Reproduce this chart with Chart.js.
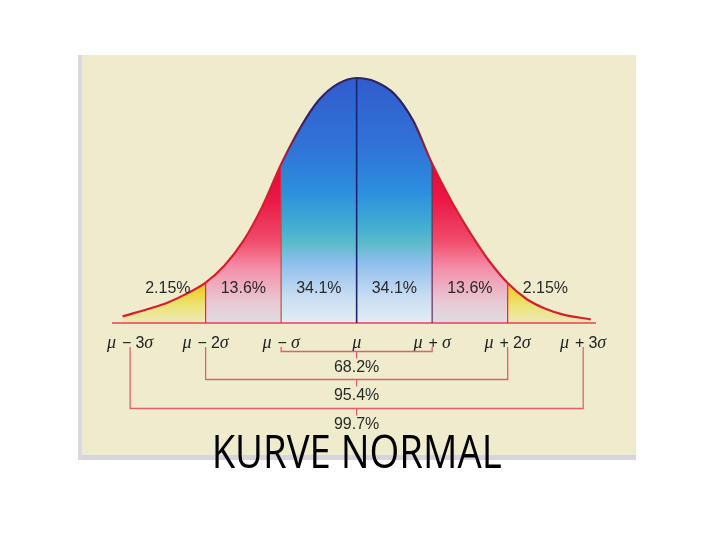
<!DOCTYPE html>
<html><head><meta charset="utf-8">
<script src="https://cdn.jsdelivr.net/npm/chart.js@4.4.1/dist/chart.umd.min.js"></script>
<style>html,body{margin:0;padding:0;background:#fff;}#wrap{width:720px;height:540px;position:relative;}</style>
</head><body><div id="wrap"><canvas id="c" width="720" height="540"></canvas></div>
<script>
// ---- data ----
const sigmaPos = [-3.1, -2.75, -2.5, -2.25, -2, -1.75, -1.5, -1.25, -1, -0.75, -0.5, -0.25, 0, 0.25, 0.5, 0.75, 1, 1.25, 1.5, 1.75, 2, 2.25, 2.5, 2.75, 3.1];
const density  = [2.7, 5.8, 8.4, 12.0, 16.5, 23.5, 33.5, 47.5, 64.8, 79.5, 91.0, 97.6, 100, 98.5, 93.5, 82.5, 65.0, 50.0, 37.0, 25.5, 16.3, 9.8, 5.8, 3.3, 1.5];
const dividerPos = [-2, -1, 0, 1, 2];
const regionCenters = [-2.5, -1.5, -0.5, 0.5, 1.5, 2.5];
const regionLabels  = ['2.15%', '13.6%', '34.1%', '34.1%', '13.6%', '2.15%'];
const tickValues = [-3, -2, -1, 0, 1, 2, 3];
const tickLabels = ['μ − 3σ', 'μ − 2σ', 'μ − σ', 'μ', 'μ + σ', 'μ + 2σ', 'μ + 3σ'];
const bracketFrom = [-1, -2, -3];
const bracketTo   = [1, 2, 3];
const bracketLabels = ['68.2%', '95.4%', '99.7%'];
const titleText = 'KURVE NORMAL';
const xMin = -3.24, xMax = 3.17;

const curvePts = sigmaPos.map((v, i) => ({x: v, y: density[i]}));
const densityAt = v => density[sigmaPos.indexOf(v)];

const blueStops = [[0, '#325ccc'], [0.29, '#3074d8'], [0.46, '#2c8ede'], [0.6, '#42acd2'], [0.68, '#5ebccc'], [0.75, '#8cbeec'], [0.89, '#c8dcf2'], [1, '#e4edf4']];
const redStops  = [[0, '#e6063a'], [0.35, '#e6063a'], [0.5, '#ea1a44'], [0.66, '#f04a6a'], [0.78, '#f490aa'], [0.91, '#e8c8d3'], [1, '#e0dce2']];
const tailStops = [[0, '#e8302c'], [0.78, '#ee7a2a'], [0.83, '#f2b42a'], [0.87, '#f0d236'], [0.93, '#ece378'], [1, '#ece8b8']];

let patCache = null;
function regionPattern(c) {
  const chart = c.chart;
  const {chartArea, scales} = chart;
  if (!chartArea) return 'rgba(0,0,0,0)';
  const key = chart.width + 'x' + chart.height + ':' + chartArea.left + ',' + chartArea.top;
  if (patCache && patCache.key === key) return patCache.pat;
  const xs = scales.x, ys = scales.y;
  const off = document.createElement('canvas');
  off.width = chart.width; off.height = chart.height;
  const g = off.getContext('2d');
  const regions = [[-9, -2, tailStops], [-2, -1, redStops], [-1, 1, blueStops], [1, 2, redStops], [2, 9, tailStops]];
  const top = ys.getPixelForValue(100), bot = ys.getPixelForValue(0);
  regions.forEach(([a, b, stops]) => {
    const xa = Math.max(0, xs.getPixelForValue(a)), xb = Math.min(off.width, xs.getPixelForValue(b));
    const grad = g.createLinearGradient(0, top, 0, bot);
    stops.forEach(([t, col]) => grad.addColorStop(t, col));
    g.fillStyle = grad;
    g.fillRect(xa, 0, xb - xa, off.height);
  });
  const pat = chart.ctx.createPattern(off, 'no-repeat');
  patCache = {key, pat};
  return pat;
}
function borderGrad(c) {
  const chart = c.chart;
  if (!chart.chartArea) return '#d81e2e';
  const xs = chart.scales.x;
  const a = xs.getPixelForValue(-3.3), b = xs.getPixelForValue(3.3);
  const grad = chart.ctx.createLinearGradient(a, 0, b, 0);
  const t = v => (v + 3.3) / 6.6;
  grad.addColorStop(0, '#d81e2e');
  grad.addColorStop(t(-1.05), '#d41e30');
  grad.addColorStop(t(-0.7), '#3a2262');
  grad.addColorStop(t(0.7), '#2a2260');
  grad.addColorStop(t(1.05), '#d41e30');
  grad.addColorStop(1, '#d81e2e');
  return grad;
}
const dividerColors = ['#d23040', '#c84858', '#1c2470', '#5a3060', '#d23040'];
const dividerSets = dividerPos.map((v, i) => ({
  data: [{x: v, y: 0}, {x: v, y: densityAt(v)}],
  borderColor: dividerColors[i], borderWidth: v === 0 ? 1.6 : 1.2,
  pointRadius: 0, fill: false, order: -1, clip: false, tension: 0
}));

const bgPlugin = {
  id: 'bg',
  beforeDraw(chart) {
    const ctx = chart.ctx;
    ctx.save();
    ctx.fillStyle = '#ffffff'; ctx.fillRect(0, 0, chart.width, chart.height);
    ctx.fillStyle = '#efebcd'; ctx.fillRect(80, 55, 556, 400);
    ctx.fillStyle = '#d6d5dc'; ctx.fillRect(80, 455, 556, 5);
    ctx.fillStyle = '#dadadc'; ctx.fillRect(78, 55, 4, 405);
    ctx.restore();
  }
};
function drawMathLabel(ctx, label, cx, y) {
  const serif = 'italic 18px "Liberation Serif", "DejaVu Serif", serif';
  const sans = '16px "Liberation Sans", Arial, sans-serif';
  const parts = [];
  let spaceCount = 0;
  for (const ch of label) {
    if (ch === ' ') { parts.push({gap: spaceCount === 0 ? 6 : 4}); spaceCount++; continue; }
    const font = (ch === 'μ' || ch === 'σ') ? serif : sans;
    ctx.font = font;
    parts.push({ch, font, w: ctx.measureText(ch).width});
  }
  let total = 0;
  parts.forEach(p => total += p.gap !== undefined ? p.gap : p.w);
  let x = cx - total / 2;
  parts.forEach(p => {
    if (p.gap !== undefined) { x += p.gap; return; }
    ctx.font = p.font; ctx.fillText(p.ch, x, y); x += p.w;
  });
}
const textPlugin = {
  id: 'texts',
  afterDraw(chart) {
    const ctx = chart.ctx, xs = chart.scales.x, ys = chart.scales.y;
    const base = ys.getPixelForValue(0);
    ctx.save();
    ctx.fillStyle = '#2a2a2a';
    ctx.font = '16px "Liberation Sans", Arial, sans-serif';
    ctx.textAlign = 'center'; ctx.textBaseline = 'alphabetic';
    regionCenters.forEach((v, i) => ctx.fillText(regionLabels[i], xs.getPixelForValue(v), base - 30));
    ctx.textAlign = 'left'; ctx.fillStyle = '#222';
    tickValues.forEach((v, i) => drawMathLabel(ctx, tickLabels[i], xs.getPixelForValue(v), base + 24.5));
    ctx.strokeStyle = '#e06070'; ctx.lineWidth = 1.3;
    const levels = [28.5, 56.5, 85.5];
    bracketFrom.forEach((a, i) => {
      const xa = xs.getPixelForValue(a), xb = xs.getPixelForValue(bracketTo[i]);
      const yl = base + levels[i], xc = xs.getPixelForValue(0);
      ctx.beginPath();
      ctx.moveTo(xa, base + 24); ctx.lineTo(xa, yl); ctx.lineTo(xb, yl); ctx.lineTo(xb, base + 24);
      ctx.moveTo(xc, yl); ctx.lineTo(xc, yl + 7);
      ctx.stroke();
      ctx.fillStyle = '#2a2a2a';
      ctx.font = '16px "Liberation Sans", Arial, sans-serif';
      ctx.textAlign = 'center';
      ctx.fillText(bracketLabels[i], xc, yl + 20.5);
    });
    ctx.font = '46px "Open Sans", sans-serif';
    const w = ctx.measureText(titleText).width;
    const sx = 290 / w;
    ctx.translate(xs.getPixelForValue(0), base + 144.5);
    ctx.scale(sx, 1);
    ctx.fillStyle = '#000';
    ctx.textAlign = 'center';
    ctx.fillText(titleText, 0, 0);
    ctx.restore();
  }
};

new Chart(document.getElementById('c'), {
  type: 'line',
  data: {
    datasets: [
      {data: curvePts, borderColor: borderGrad, borderWidth: 2.2, fill: false, pointRadius: 0, cubicInterpolationMode: 'monotone', order: -2, clip: false},
      ...dividerSets,
      {data: curvePts, borderWidth: 0, borderColor: 'rgba(0,0,0,0)', backgroundColor: regionPattern, fill: 'origin', pointRadius: 0, cubicInterpolationMode: 'monotone', order: 3, clip: false},
      {data: [{x: xMin, y: 0}, {x: xMax, y: 0}], borderColor: '#e04452', borderWidth: 1.6, pointRadius: 0, fill: false, order: 2, clip: false}
    ]
  },
  options: {
    responsive: false,
    animation: false,
    devicePixelRatio: 1,
    layout: {padding: {left: 112, right: 124, top: 78, bottom: 217}},
    scales: {
      x: {type: 'linear', min: xMin, max: xMax, display: false},
      y: {type: 'linear', min: 0, max: 100, display: false}
    },
    plugins: {legend: {display: false}, tooltip: {enabled: false}, title: {display: false}}
  },
  plugins: [bgPlugin, textPlugin]
});
</script>
</body></html>
